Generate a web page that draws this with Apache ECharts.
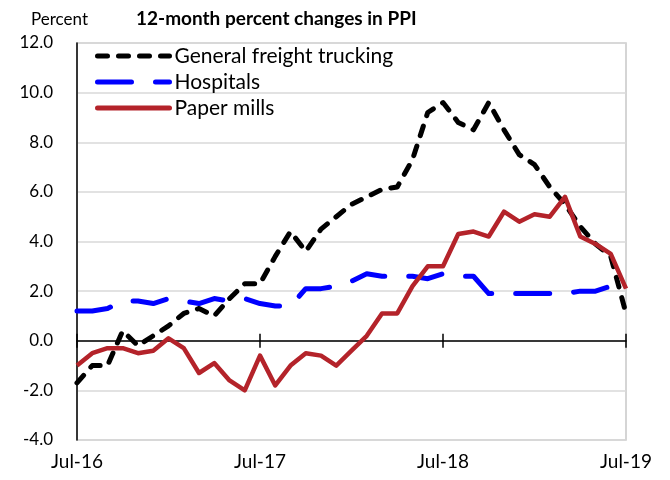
<!DOCTYPE html>
<html>
<head>
<meta charset="utf-8">
<title>12-month percent changes in PPI</title>
<script src="https://cdn.jsdelivr.net/npm/echarts@6.0.0/dist/echarts.min.js"></script>
<style>
  html, body { margin: 0; padding: 0; background: #fff; }
  #chart { width: 670px; height: 480px; }
</style>
</head>
<body>
<div id="chart"></div>
<script>
// monthly, Jul-16 .. Jul-19
var months = ['Jul-16', 'Aug-16', 'Sep-16', 'Oct-16', 'Nov-16', 'Dec-16',
  'Jan-17', 'Feb-17', 'Mar-17', 'Apr-17', 'May-17', 'Jun-17',
  'Jul-17', 'Aug-17', 'Sep-17', 'Oct-17', 'Nov-17', 'Dec-17',
  'Jan-18', 'Feb-18', 'Mar-18', 'Apr-18', 'May-18', 'Jun-18',
  'Jul-18', 'Aug-18', 'Sep-18', 'Oct-18', 'Nov-18', 'Dec-18',
  'Jan-19', 'Feb-19', 'Mar-19', 'Apr-19', 'May-19', 'Jun-19', 'Jul-19']

var trucking = [-1.7, -1.0, -1.0, 0.4, -0.2, 0.2, 0.6, 1.1, 1.3, 1.0, 1.7, 2.3,
  2.3, 3.4, 4.4, 3.6, 4.5, 5.0, 5.5, 5.8, 6.1, 6.2, 7.3, 9.2,
  9.6, 8.8, 8.5, 9.6, 8.5, 7.5, 7.1, 6.2, 5.5, 4.6, 3.9, 3.4, 1.1]

var hospitals = [1.2, 1.2, 1.3, 1.6, 1.6, 1.5, 1.7, 1.6, 1.5, 1.7, 1.6, 1.7,
  1.5, 1.4, 1.4, 2.1, 2.1, 2.2, 2.4, 2.7, 2.6, 2.6, 2.6, 2.5,
  2.7, 2.6, 2.6, 1.9, 1.9, 1.9, 1.9, 1.9, 1.9, 2.0, 2.0, 2.2, 2.3]

var paperMills = [-1.0, -0.5, -0.3, -0.3, -0.5, -0.4, 0.1, -0.3, -1.3, -0.9, -1.6, -2.0,
  -0.6, -1.8, -1.0, -0.5, -0.6, -1.0, -0.4, 0.2, 1.1, 1.1, 2.2, 3.0,
  3.0, 4.3, 4.4, 4.2, 5.2, 4.8, 5.1, 5.0, 5.8, 4.2, 3.9, 3.5, 2.1]

var FONT = 'Lato, "Open Sans", sans-serif'

var chart = echarts.init(document.getElementById('chart'), null, { renderer: 'canvas' })

// the zero line carries ticks that cross it, so two extra category axes sit on zero
function zeroAxis(inside) {
  return {
    type: 'category',
    data: months,
    boundaryGap: false,
    axisLine: {
      show: inside,
      onZero: true,
      onZeroAxisIndex: 0,
      lineStyle: { color: '#000', width: 1.5 }
    },
    axisTick: {
      show: true,
      inside: inside,
      interval: 11,
      length: 7,
      lineStyle: { color: '#000', width: 1.5 }
    },
    axisLabel: { show: false },
    splitLine: { show: false }
  }
}

chart.setOption({
  animation: false,
  textStyle: { fontFamily: FONT },
  title: [{
    text: '12-month percent changes in PPI',
    left: 131,
    top: 4,
    textStyle: { fontFamily: FONT, fontSize: 19, fontWeight: 'bold', color: '#000' }
  }, {
    text: 'Percent',
    left: 26,
    top: 6,
    textStyle: { fontFamily: FONT, fontSize: 17, fontWeight: 'normal', color: '#000' }
  }],
  grid: {
    left: 77,
    right: 44,
    top: 43,
    bottom: 40,
    show: true,
    borderColor: '#c8c8c8',
    borderWidth: 1.5,
    containLabel: false
  },
  legend: {
    orient: 'vertical',
    left: 90,
    top: 40,
    itemWidth: 72,
    itemHeight: 14,
    itemGap: 4,
    itemStyle: { opacity: 0 },   // no marker, line only
    lineStyle: { width: 5, cap: 'round' },
    textStyle: { fontFamily: FONT, fontSize: 21, color: '#000', lineHeight: 22 },
    data: ['General freight trucking', 'Hospitals', 'Paper mills']
  },
  xAxis: [{
    type: 'category',
    data: months,
    boundaryGap: false,
    position: 'bottom',
    axisLine: { show: false, onZero: false },
    axisTick: { show: false },
    axisLabel: {
      interval: 11,
      margin: 12,
      fontFamily: FONT,
      fontSize: 19,
      color: '#000'
    },
    splitLine: { show: false }
  }, zeroAxis(true), zeroAxis(false)],
  yAxis: {
    type: 'value',
    min: -4,
    max: 12,
    interval: 2,
    axisLine: { show: true, onZero: false, lineStyle: { color: '#000', width: 1.5 } },
    axisTick: { show: false },
    axisLabel: {
      margin: 24,
      fontFamily: FONT,
      fontSize: 17,
      color: '#000',
      formatter: function (v) { return v.toFixed(1) }
    },
    splitLine: { lineStyle: { color: '#d9d9d9', width: 1.5 } }
  },
  series: [{
    name: 'General freight trucking',
    type: 'line',
    data: trucking,
    symbol: 'none',
    lineStyle: { color: '#000', width: 5, type: [10, 11], cap: 'round', join: 'round' },
    itemStyle: { color: '#000' }
  }, {
    name: 'Hospitals',
    type: 'line',
    data: hospitals,
    symbol: 'none',
    lineStyle: { color: '#0000ff', width: 5, type: [34, 24], cap: 'round', join: 'round' },
    itemStyle: { color: '#0000ff' }
  }, {
    name: 'Paper mills',
    type: 'line',
    data: paperMills,
    symbol: 'none',
    lineStyle: { color: '#b4232a', width: 4.5, join: 'round' },
    itemStyle: { color: '#b4232a' }
  }]
})
</script>
</body>
</html>
